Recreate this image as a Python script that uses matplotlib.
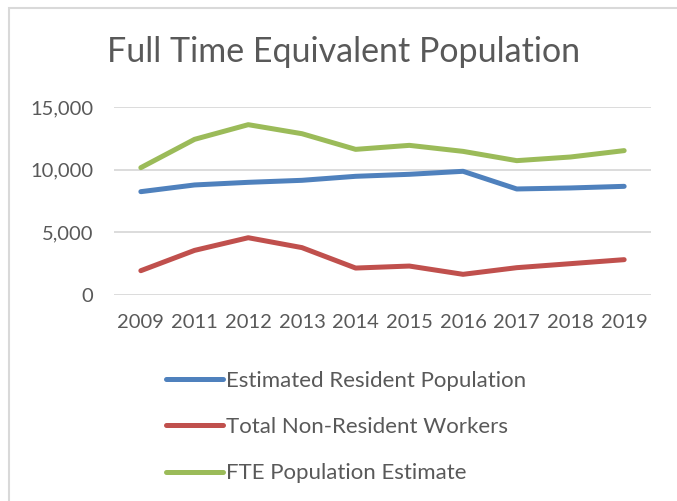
import matplotlib
matplotlib.use("Agg")
import matplotlib.pyplot as plt
from matplotlib.patches import Rectangle
from matplotlib.ticker import FuncFormatter

years = ["2009", "2011", "2012", "2013", "2014", "2015", "2016", "2017", "2018", "2019"]
resident = [8245, 8780, 8990, 9150, 9470, 9630, 9870, 8460, 8540, 8670]
non_resident = [1940, 3560, 4570, 3780, 2150, 2310, 1650, 2180, 2500, 2820]
fte = [10160, 12420, 13590, 12870, 11620, 11940, 11460, 10720, 11010, 11520]

series_names = ["Estimated Resident Population", "Total Non-Resident Workers", "FTE Population Estimate"]
colors = ["#4F81BD", "#C0504D", "#9BBB59"]
title = "Full Time Equivalent Population"

plt.rcParams["font.family"] = ["Lato", "DejaVu Sans"]
text_color = "#595959"

W, H = 677, 501
fig = plt.figure(figsize=(W / 100, H / 100), dpi=100)
ax = fig.add_axes([114 / W, 1 - 295 / H, (651 - 114) / W, (295 - 107) / H])

x = list(range(len(years)))
for vals, name, c in zip([resident, non_resident, fte], series_names, colors):
    ax.plot(x, vals, color=c, lw=3.6, solid_capstyle="round", solid_joinstyle="round", label=name)

ax.set_xlim(-0.5, len(years) - 0.5)
ax.set_ylim(0, 15000)
ax.set_yticks([0, 5000, 10000, 15000])
ax.yaxis.set_major_formatter(FuncFormatter(lambda v, p: f"{int(v):,}"))
ax.set_xticks(x)
ax.set_xticklabels(years)
ax.grid(axis="y", color="#D9D9D9", lw=1.3)
ax.set_axisbelow(True)
for s in ax.spines.values():
    s.set_visible(False)
ax.tick_params(axis="both", length=0, labelsize=14.5, colors=text_color)
ax.tick_params(axis="y", pad=15)
ax.tick_params(axis="x", pad=14)

fig.text(344 / W, 1 - 52 / H, title, ha="center", va="center", fontsize=24.5, color=text_color)

leg = fig.legend(loc="upper left", bbox_to_anchor=(166 / W, 1 - 371 / H), frameon=False,
                 fontsize=16, handlelength=2.55, handletextpad=0.15, labelspacing=1.18,
                 borderpad=0, borderaxespad=0)
for t in leg.get_texts():
    t.set_color(text_color)

fig.patches.append(Rectangle((8.5 / W, -0.5), 2, 0.5 + 1 - 7.5 / H, transform=fig.transFigure,
                             fill=False, ec="#D9D9D9", lw=1.5))

fig.savefig("out.png", dpi=100, facecolor="white")
